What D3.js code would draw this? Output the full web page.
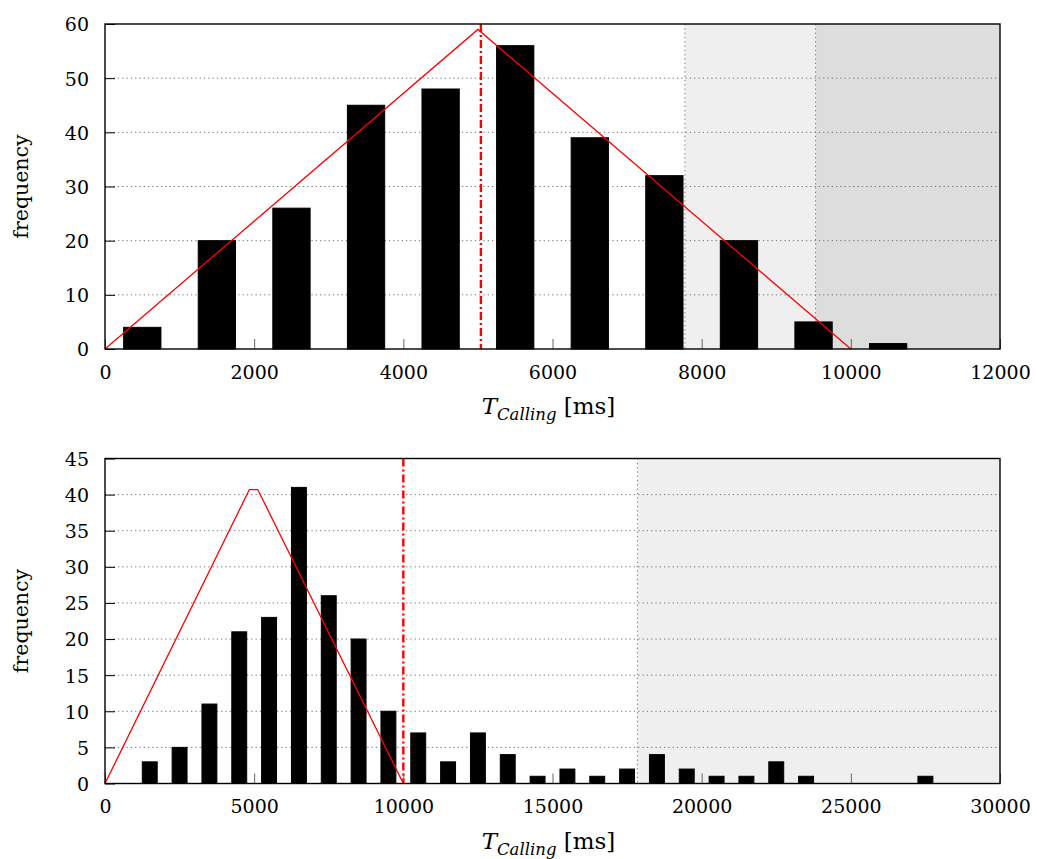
<!DOCTYPE html>
<html>
<head>
<meta charset="utf-8">
<script src="https://cdn.jsdelivr.net/npm/d3@7"></script>
<style>
  body { margin: 0; background: #fff; }
  svg { display: block; }
  text { font-family: "DejaVu Serif", "Liberation Serif", serif; fill: #000; }
</style>
</head>
<body>
<svg id="chart" width="1037" height="859"></svg>
<script>
// ---- data: upper histogram (bin start in ms, count)
var topBins   = [0, 1000, 2000, 3000, 4000, 5000, 6000, 7000, 8000, 9000, 10000];
var topCounts = [4, 20, 26, 45, 48, 56, 39, 32, 20, 5, 1];
var topModelX = [0, 5000, 10000];
var topModelY = [0, 59, 0];
var topMean   = 5040;
var topShadeEdges = [7775, 9527, 12000];
var topXTicks = [0, 2000, 4000, 6000, 8000, 10000, 12000];
var topYTicks = [0, 10, 20, 30, 40, 50, 60];

// ---- data: lower histogram
var botBins   = [1000, 2000, 3000, 4000, 5000, 6000, 7000, 8000, 9000, 10000, 11000, 12000, 13000,
                 14000, 15000, 16000, 17000, 18000, 19000, 20000, 21000, 22000, 23000, 27000];
var botCounts = [3, 5, 11, 21, 23, 41, 26, 20, 10, 7, 3, 7, 4,
                 1, 2, 1, 2, 4, 2, 1, 1, 3, 1, 1];
var botModelX = [0, 4840, 5120, 10000];
var botModelY = [0, 40.7, 40.7, 0];
var botMean   = 10000;
var botShadeEdges = [17845, 30000];
var botXTicks = [0, 5000, 10000, 15000, 20000, 25000, 30000];
var botYTicks = [0, 5, 10, 15, 20, 25, 30, 35, 40, 45];

var shadeColors = ['#efefef', '#dddddd'];
var binWidth = 1000;

var svg = d3.select('#chart');
svg.append('rect').attr('width', 1037).attr('height', 859).attr('fill', '#fff');

function drawPanel(top, bins, counts, modelX, modelY, mean, shadeEdges, xTicks, yTicks) {
    var left = 105, right = 1000, h = 325;
    var g = svg.append('g').attr('transform', 'translate(' + left + ',' + top + ')');
    var w = right - left;

    var x = d3.scaleLinear().domain([xTicks[0], xTicks[xTicks.length - 1]]).range([0, w]);
    var y = d3.scaleLinear().domain([0, yTicks[yTicks.length - 1]]).range([h, 0]);

    // shaded tail regions
    for (var i = 0; i < shadeEdges.length - 1; i++) {
        g.append('rect')
            .attr('x', x(shadeEdges[i])).attr('y', 0)
            .attr('width', x(shadeEdges[i + 1]) - x(shadeEdges[i]))
            .attr('height', h)
            .attr('fill', shadeColors[i]);
    }

    // horizontal grid (dotted)
    g.selectAll('.grid').data(yTicks.slice(1, -1)).enter().append('line')
        .attr('x1', 0).attr('x2', w)
        .attr('y1', function(d) { return y(d); })
        .attr('y2', function(d) { return y(d); })
        .attr('stroke', '#777').attr('stroke-width', 1)
        .attr('stroke-dasharray', '1.3,3');

    // vertical dotted lines at shade edges
    g.selectAll('.vgrid').data(shadeEdges.slice(0, -1)).enter().append('line')
        .attr('x1', function(d) { return x(d); })
        .attr('x2', function(d) { return x(d); })
        .attr('y1', 0).attr('y2', h)
        .attr('stroke', '#777').attr('stroke-width', 1)
        .attr('stroke-dasharray', '1.3,3');

    // x ticks (inward, grey)
    var xAxis = d3.axisBottom(x).tickValues(xTicks).tickSize(-10).tickPadding(16.5)
        .tickFormat(d3.format('d'));
    var xg = g.append('g').attr('transform', 'translate(0,' + h + ')').call(xAxis);
    xg.select('.domain').remove();
    xg.selectAll('line').attr('stroke', '#666');
    xg.selectAll('text').attr('font-family', '"DejaVu Serif", serif').attr('font-size', 19);

    // bars
    g.selectAll('.bar').data(bins).enter().append('rect')
        .attr('x', function(d) { return x(d + binWidth / 4); })
        .attr('width', function(d) { return x(d + binWidth * 3 / 4) - x(d + binWidth / 4); })
        .attr('y', function(d, i) { return y(counts[i]); })
        .attr('height', function(d, i) { return h - y(counts[i]); })
        .attr('fill', '#000').attr('stroke', '#000').attr('stroke-width', 1);

    // model line
    var pts = modelX.map(function(d, i) { return [d, modelY[i]]; });
    g.append('path')
        .datum(pts)
        .attr('d', d3.line().x(function(d) { return x(d[0]); }).y(function(d) { return y(d[1]); }))
        .attr('fill', 'none').attr('stroke', '#ff0000').attr('stroke-width', 1.3);

    // mean line (dash-dot)
    g.append('line')
        .attr('x1', x(mean)).attr('x2', x(mean))
        .attr('y1', 0).attr('y2', h)
        .attr('stroke', '#ff0000').attr('stroke-width', 2.4)
        .attr('stroke-dasharray', '8,3,2,3');

    // y ticks (inward)
    var yAxis = d3.axisLeft(y).tickValues(yTicks).tickSize(-10).tickPadding(16);
    var yg = g.append('g').call(yAxis);
    yg.select('.domain').remove();
    yg.selectAll('line').attr('stroke', '#000');
    yg.selectAll('text').attr('font-family', '"DejaVu Serif", serif').attr('font-size', 19)
        .attr('dy', '0.36em');

    // frame
    g.append('rect').attr('x', 0).attr('y', 0).attr('width', w).attr('height', h)
        .attr('fill', 'none').attr('stroke', '#000').attr('stroke-width', 1.4);

    // axis titles
    g.append('text')
        .attr('transform', 'translate(' + (21 - left) + ',' + (h / 2) + ') rotate(-90)')
        .attr('text-anchor', 'middle').attr('dy', '0.35em')
        .attr('font-size', 20.5)
        .text('frequency');

    var xl = g.append('text')
        .attr('x', w / 2 - 4).attr('y', h + 65)
        .attr('text-anchor', 'middle').attr('font-size', 23);
    xl.append('tspan').attr('font-style', 'italic').text('T');
    xl.append('tspan').attr('font-style', 'italic').attr('font-size', 16.5)
        .attr('dy', 6).text('Calling');
    xl.append('tspan').attr('dy', -6).text(' [ms]');
}

drawPanel(24, topBins, topCounts, topModelX, topModelY, topMean, topShadeEdges, topXTicks, topYTicks);
drawPanel(458.5, botBins, botCounts, botModelX, botModelY, botMean, botShadeEdges, botXTicks, botYTicks);
</script>
</body>
</html>
